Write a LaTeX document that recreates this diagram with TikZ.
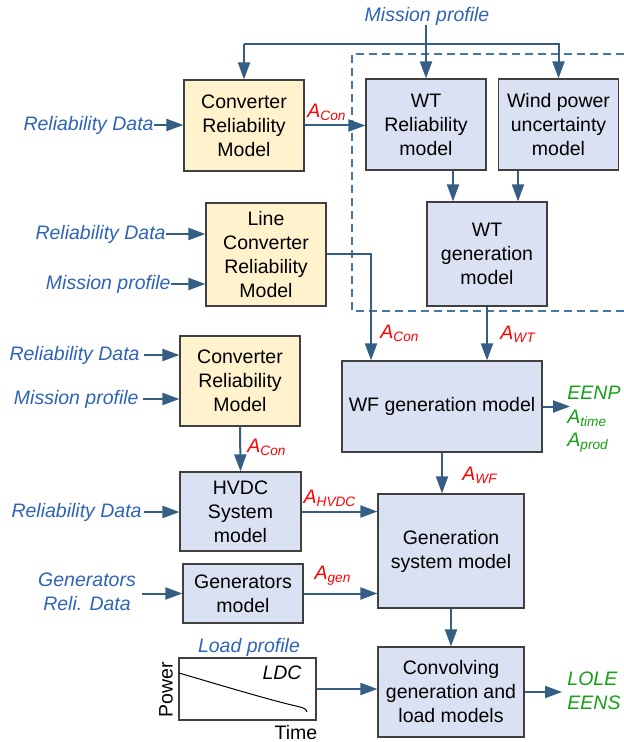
\documentclass[tikz,border=0pt]{standalone}
\usepackage{fontspec}
\setmainfont{Liberation Sans}
\usepackage{tikz}
\usetikzlibrary{arrows.meta}

\definecolor{boxblue}{RGB}{218,225,242}
\definecolor{boxyellow}{RGB}{255,242,204}
\definecolor{boxline}{RGB}{64,64,64}
\definecolor{arrcol}{RGB}{53,94,133}
\definecolor{zonecol}{RGB}{70,120,165}
\definecolor{txtblue}{RGB}{46,99,184}
\definecolor{outgreen}{RGB}{20,160,20}

\newcommand{\asub}[2]{\textit{#1\textsubscript{#2}}}

\begin{document}
\fontsize{9.75}{12}\selectfont
\begin{tikzpicture}[x=0.5pt,y=-0.5pt,
    arr/.style={draw=arrcol,line width=1pt,-{Triangle[length=8.5pt,width=6pt]}},
    intxt/.style={text=txtblue,font=\itshape,inner sep=0pt},
    alabel/.style={text=red,inner sep=0pt},
    outtxt/.style={text=outgreen,font=\itshape,inner sep=0pt,align=left}]
		\useasboundingbox (0,0) rectangle (624,742);

		% wind turbine zone
		\draw[zonecol,line width=0.65pt,dash pattern=on 4pt off 2.5pt] (624,54) -| (352,311) -- (624,311);

		\begin{scope}[every node/.style={draw=boxline,line width=0.6pt,align=center,inner sep=1pt,minimum width=60pt}]
			\node[fill=boxyellow,minimum height=45.5pt] (conv1) at (244,125.5) {Converter\\Reliability\\Model};
			\node[fill=boxblue,minimum height=45.5pt] (wtrel) at (426,124.5) {WT\\Reliability\\model};
			\node[fill=boxblue,minimum height=45.5pt] (wpu) at (558.5,124.5) {Wind power\\uncertainty\\model};
			\node[fill=boxblue,minimum height=52pt] (wtgen) at (487,254) {WT\\generation\\model};
			\node[fill=boxyellow,minimum height=51.5pt] (lconv) at (266,254.5) {Line\\Converter\\Reliability\\Model};
			\node[fill=boxyellow,minimum height=45pt] (conv2) at (240,381) {Converter\\Reliability\\Model};
			\node[fill=boxblue,minimum height=45.5pt,minimum width=100pt] (wfgen) at (442,406.5) {WF generation model};
			\node[fill=boxblue,minimum height=39.5pt,minimum width=60.5pt] (hvdc) at (240.5,511.5) {HVDC\\System\\model};
			\node[fill=boxblue,minimum height=29.5pt] (gens) at (243,593.5) {Generators\\model};
			\node[fill=boxblue,minimum height=57pt,minimum width=73pt] (gensys) at (451,551) {Generation\\system model};
			\node[fill=boxblue,minimum height=45pt,minimum width=73pt] (convl) at (451,692) {Convolving\\generation and\\load models};
			\node[fill=white,minimum height=31pt,minimum width=68.5pt] (ldc) at (247.5,689) {};
		\end{scope}

		% input texts
		\node[intxt] (mp1) at (427,16) {Mission profile};
		\node[intxt,anchor=east] (rd1) at (154,125) {Reliability Data};
		\node[intxt,anchor=east] (rd2) at (166,234) {Reliability Data};
		\node[intxt,anchor=east] (mp2) at (171,284) {Mission profile};
		\node[intxt,anchor=east] (rd3) at (140,355) {Reliability Data};
		\node[intxt,anchor=east] (mp3) at (139,399) {Mission profile};
		\node[intxt,anchor=east] (rd4) at (142,512) {Reliability Data};
		\node[intxt,align=center] (genrd) at (87,592) {Generators\\Reli. Data};
		\node[intxt] (lp) at (249,647) {Load profile};

		% load duration curve
		\draw[black,line width=0.5pt] (179,673) .. controls (230,688) and (270,700) .. (298,706.5) .. controls (304,707.5) and (307,710) .. (307,712);
		\node[font=\itshape,inner sep=0pt] (ldctxt) at (282,673) {LDC};
		\node[rotate=90,inner sep=0pt] (pow) at (166,690) {Power};
		\node[anchor=base,inner sep=0pt] (time) at (296,739) {Time};

		% outputs
		\coordinate (wfout) at (570,406.5);
		\coordinate (convout) at (562,692);
		\node[outtxt,anchor=west] (eenp) at (567,393) {EENP};
		\node[outtxt,anchor=west] (atime) at (567,418) {\asub{A}{time}};
		\node[outtxt,anchor=west] (aprod) at (567,443) {\asub{A}{prod}};
		\node[outtxt,anchor=west] (lole) at (567,691) {LOLE\\EENS};

		% availability labels
		\node[alabel] (acon1) at (327,112) {\asub{A}{Con}};
		\node[alabel] (acon2) at (400,333) {\asub{A}{Con}};
		\node[alabel] (awt) at (518,334) {\asub{A}{WT}};
		\node[alabel] (acon3) at (267,447) {\asub{A}{Con}};
		\node[alabel] (awf) at (480,475) {\asub{A}{WF}};
		\node[alabel] (ahvdc) at (330,498) {\asub{A}{HVDC}};
		\node[alabel] (agen) at (333,576) {\asub{A}{gen}};

		% connectors
		\coordinate (bus) at (0,44);
		\coordinate (lcbend) at (371,254.5);
		\begin{scope}[every edge/.style={arr}]
			\path (mp1.south -| wtrel.north) edge (wtrel.north);
			\path (conv1.north |- bus) edge (conv1.north);
			\draw[arr] (conv1.north |- bus) -- (wpu.north |- bus) -- (wpu.north);
			\path (rd1.east) edge (rd1.east -| conv1.west);
			\path (conv1.east) edge (conv1.east -| wtrel.west);
			\path (453,0 |- wtrel.south) edge (453,0 |- wtgen.north);
			\path (518,0 |- wpu.south) edge (518,0 |- wtgen.north);
			\path (rd2.east) edge (rd2.east -| lconv.west);
			\path (mp2.east) edge (mp2.east -| lconv.west);
			\draw[arr] (lconv.east) -- (lcbend) -- (lcbend |- wfgen.north);
			\path (wtgen.south) edge (wtgen.south |- wfgen.north);
			\path (wfgen.east) edge (wfout);
			\path ([xshift=2pt]rd3.east) edge (rd3.east -| conv2.west);
			\path ([xshift=2pt]mp3.east) edge (mp3.east -| conv2.west);
			\path (conv2.south) edge (hvdc.north);
			\path (wfgen.south) edge (wfgen.south |- gensys.north);
			\path ([xshift=1pt]rd4.east) edge (rd4.east -| hvdc.west);
			\path (hvdc.east) edge (hvdc.east -| gensys.west);
			\path ([xshift=3pt]genrd.east |- gens.west) edge (gens.west);
			\path (gens.east) edge (gens.east -| gensys.west);
			\path (gensys.south) edge (convl.north);
			\path (ldc.east) edge (ldc.east -| convl.west);
			\path (convl.east) edge (convout);
		\end{scope}
\end{tikzpicture}
\end{document}
